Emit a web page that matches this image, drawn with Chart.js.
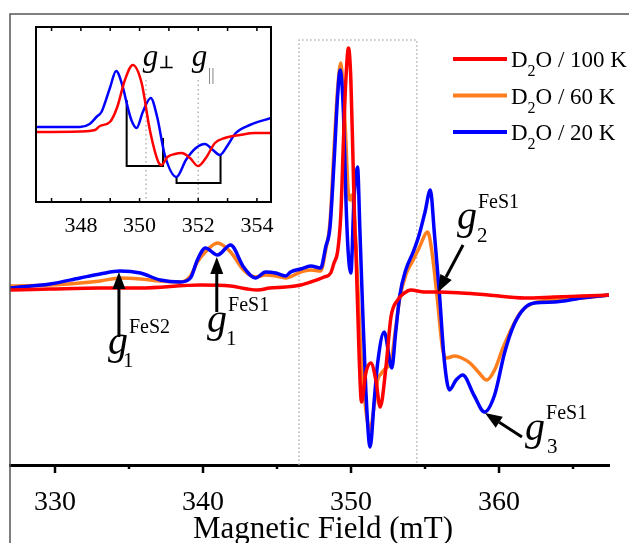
<!DOCTYPE html>
<html>
<head>
<meta charset="utf-8">
<script src="https://cdn.jsdelivr.net/npm/chart.js@4.4.1/dist/chart.umd.min.js"></script>
<style>
  html, body { margin: 0; padding: 0; background: #fff; }
  #wrap { position: relative; width: 629px; height: 543px; overflow: hidden; }
  canvas { display: block; }
  #inset { position: absolute; left: 0; top: 0; pointer-events: none; }
</style>
</head>
<body>
<div id="wrap">
  <canvas id="grafico" width="629" height="543"></canvas>
  <canvas id="inset" width="300" height="240"></canvas>
</div>
<script>
// Spettro principale: campo (mT) e intensità (u.a.)
const campoRosso = [326.96, 329.66, 333.05, 335.76, 339.82, 341.86, 343.0, 343.7, 344.5, 345.58, 346.6, 347.28, 348.18, 348.63, 348.85, 349.09, 349.31, 349.49, 349.65, 349.83, 349.99, 350.14, 350.26, 350.33, 350.55, 350.71, 351.0, 351.34, 351.68, 351.97, 352.36, 352.70, 353.15, 353.60, 354.05, 354.95, 355.88, 357.44, 359.27, 361.71, 363.74, 365.57, 367.43];
const d2o100K   = [0, 1, 2, 2, 5, 4, 1, 0, 2, 3, 5, 8, 13, 17, 27, 38, 75, 150, 210, 242, 210, 127, 60, 40, -67, -112, -83, -73, -90, -117, -77, -27, -10, -3, 0, -2, -2, -3, -5, -8, -7, -6, -5];

const campoArancio = [326.96, 329.66, 331.69, 333.05, 334.40, 335.76, 337.11, 338.47, 339.15, 339.62, 340.16, 340.98, 341.86, 342.74, 343.55, 344.23, 344.91, 345.58, 346.6, 347.28, 347.95, 348.29, 348.58, 348.85, 349.09, 349.31, 349.49, 349.65, 349.80, 349.94, 350.05, 350.2, 350.44, 350.66, 351.0, 351.29, 351.57, 351.8, 352.02, 352.36, 352.7, 353.0, 353.3, 353.7, 354.2, 354.6, 355.18, 355.45, 355.79, 356.2, 356.46, 357.0, 357.48, 358.04, 358.6, 359.17, 359.7, 360.29, 361.42, 362.32, 363.74, 365.57, 367.43];
const d2o60K       = [4, 5, 7, 9, 12, 11, 9, 8, 14, 28, 38, 47, 38, 20, 13, 15, 14, 12, 18, 20, 19, 40, 68, 140, 200, 227, 195, 150, 100, 90, 95, 80, 10, -60, -120, -140, -115, -90, -84, -78, -72, -40, -8, 15, 30, 42, 58, 40, -3, -60, -68, -66, -68, -73, -82, -90, -80, -57, -23, -13, -10, -8, -5];

const campoBlu = [326.96, 329.66, 331.69, 333.05, 334.40, 335.76, 337.11, 338.47, 339.15, 339.62, 340.16, 340.98, 341.86, 342.74, 343.55, 344.23, 344.91, 345.58, 345.92, 346.6, 347.28, 347.95, 348.29, 348.58, 348.85, 349.09, 349.26, 349.49, 349.65, 349.80, 349.99, 350.2, 350.44, 350.6, 350.78, 351.0, 351.29, 351.57, 351.80, 352.24, 352.76, 353.0, 353.3, 353.7, 354.2, 354.6, 355.0, 355.36, 355.63, 355.97, 356.3, 356.65, 357.1, 357.55, 358.3, 359.02, 359.7, 360.37, 361.0, 361.73, 362.4, 363.74, 365.57, 367.43];
const d2o20K   = [2, 6, 12, 16, 19, 17, 10, 8, 12, 30, 42, 35, 45, 23, 12, 18, 17, 14, 18, 21, 24, 22, 43, 63, 127, 193, 220, 177, 93, 40, 17, 90, 123, 60, -17, -100, -157, -110, -73, -42, -78, -45, -5, 20, 38, 55, 78, 100, 57, -3, -70, -100, -90, -85, -105, -122, -105, -63, -35, -18, -13, -12, -8, -5];

const etichette = ['D2O / 100 K', 'D2O / 60 K', 'D2O / 20 K'];
const tickCampo = [330, 340, 350, 360];
const titoloX = 'Magnetic Field (mT)';

// Inserto: zoom della zona centrale (solo 100 K e 20 K)
const insCampoRosso = [346.47, 347.97, 348.48, 348.65, 348.99, 349.24, 349.5, 349.77, 350.07, 350.35, 350.64, 350.75, 350.95, 351.2, 351.44, 351.72, 351.99, 352.26, 352.57, 352.91, 353.42, 353.93, 354.48];
const insRosso      = [0, 0.5, 2, 6, 10, 25, 52, 67, 49, 2, -30, -33, -25, -22, -21, -26, -34, -26, -11, -6, -3, -1, -1];
const insCampoBlu = [346.47, 347.97, 348.3, 348.53, 348.7, 348.82, 349.0, 349.2, 349.43, 349.56, 349.72, 349.9, 350.11, 350.38, 350.6, 350.86, 351.26, 351.58, 351.92, 352.23, 352.5, 352.74, 353.01, 353.28, 353.76, 354.48];
const insBlu      = [5, 5, 8, 15, 20, 29, 45, 61, 45, 29, 12, 4, 20, 34, 15, -23, -45, -28, -16, -12, -18, -23, -13, -1, 7, 14];
const staffa1X = [349.56, 349.56, 350.8, 350.8];
const staffa1Y = [32, -34, -34, -6];
const staffa2X = [351.26, 351.26, 352.76, 352.76];
const staffa2Y = [-45, -51, -51, -23];
const gPerp = 350.22, gPar = 352.0;

const toXY = (xs, ys) => xs.map((x, i) => ({ x: x, y: ys[i] }));
const SERIF = '"Liberation Serif", "Times New Roman", serif';

// annotazioni g (coordinate nei dati)
const frecce = [
  { da: [334.32, -47], a: [334.32, 18] },
  { da: [340.93, -22], a: [340.93, 33] },
  { da: [357.57, 45], a: [355.88, -2] },
  { da: [361.55, -147], a: [359.05, -123] }
];
const etichetteG = [
  { at: [333.58, -64], sub: '1', sup: 'FeS2', dSub: 15 },
  { at: [340.27, -42], sub: '1', sup: 'FeS1', dSub: 19 },
  { at: [357.16, 61], sub: '2', sup: 'FeS1', dSub: 20 },
  { at: [361.76, -150], sub: '3', sup: 'FeS1', dSub: 22 }
];

function freccia(ctx, x1, y1, x2, y2) {
  const ang = Math.atan2(y2 - y1, x2 - x1);
  const lung = 17, larg = 6.5;
  const bx = x2 - lung * Math.cos(ang), by = y2 - lung * Math.sin(ang);
  ctx.beginPath(); ctx.moveTo(x1, y1); ctx.lineTo(bx, by); ctx.stroke();
  ctx.beginPath();
  ctx.moveTo(x2, y2);
  ctx.lineTo(bx + larg * Math.sin(ang), by - larg * Math.cos(ang));
  ctx.lineTo(bx - larg * Math.sin(ang), by + larg * Math.cos(ang));
  ctx.closePath(); ctx.fill();
}

const decorazioni = {
  id: 'decorazioni',
  beforeDatasetsDraw(chart) {
    // riquadro tratteggiato = zona dell'inserto
    const { ctx, scales: { x, y }, chartArea } = chart;
    const l = x.getPixelForValue(346.49), r = x.getPixelForValue(354.44), t = y.getPixelForValue(250);
    ctx.save();
    ctx.strokeStyle = '#b4b4b4'; ctx.lineWidth = 1.5; ctx.setLineDash([1.5, 2.5]);
    ctx.beginPath();
    ctx.moveTo(l, chartArea.bottom); ctx.lineTo(l, t); ctx.lineTo(r, t); ctx.lineTo(r, chartArea.bottom);
    ctx.stroke();
    ctx.restore();
  },
  afterDraw(chart) {
    const { ctx, scales: { x, y }, chartArea } = chart;
    ctx.save();
    // cornice
    ctx.strokeStyle = '#555'; ctx.lineWidth = 1.5;
    ctx.beginPath();
    ctx.moveTo(chartArea.left, chart.height); ctx.lineTo(chartArea.left, chartArea.top); ctx.lineTo(chart.width, chartArea.top);
    ctx.stroke();
    // tacche asse x (maggiori e minori)
    ctx.strokeStyle = '#000'; ctx.lineWidth = 2.5;
    x.ticks.forEach(t => {
      const px = x.getPixelForValue(t.value);
      const len = Math.round(t.value) % 10 === 0 ? 8 : 4;
      ctx.beginPath(); ctx.moveTo(px, chartArea.bottom); ctx.lineTo(px, chartArea.bottom + len); ctx.stroke();
    });
    // titolo asse x (un po' spostato a destra come nell'originale)
    ctx.fillStyle = '#000';
    ctx.font = '31px ' + SERIF;
    ctx.textAlign = 'center'; ctx.textBaseline = 'alphabetic';
    ctx.fillText(titoloX, 323, 538);
    // frecce
    ctx.lineWidth = 3;
    frecce.forEach(f => {
      freccia(ctx, x.getPixelForValue(f.da[0]), y.getPixelForValue(f.da[1]), x.getPixelForValue(f.a[0]), y.getPixelForValue(f.a[1]));
    });
    // etichette g
    ctx.textAlign = 'left';
    etichetteG.forEach(e => {
      const gx = x.getPixelForValue(e.at[0]), gy = y.getPixelForValue(e.at[1]);
      ctx.font = 'italic 40px ' + SERIF;
      ctx.fillText('g', gx, gy);
      ctx.font = '21px ' + SERIF;
      ctx.fillText(e.sub, gx + e.dSub, gy + 13);
      ctx.font = '20px ' + SERIF;
      ctx.fillText(e.sup, gx + 21, gy - 21);
    });
    // legenda
    chart.data.datasets.slice(0, 3).forEach((ds, i) => {
      const yl = 59 + i * 36.5;
      ctx.strokeStyle = ds.borderColor; ctx.lineWidth = 4;
      ctx.beginPath(); ctx.moveTo(453, yl); ctx.lineTo(507, yl); ctx.stroke();
      const lab = etichette[i];
      ctx.fillStyle = '#000';
      ctx.font = '23px ' + SERIF;
      ctx.fillText(lab.slice(0, 1), 511, yl + 8);
      const w1 = ctx.measureText(lab.slice(0, 1)).width;
      ctx.font = '16px ' + SERIF;
      ctx.fillText(lab.slice(1, 2), 511 + w1, yl + 17);
      const w2 = ctx.measureText(lab.slice(1, 2)).width;
      ctx.font = '23px ' + SERIF;
      ctx.fillText(lab.slice(2), 511 + w1 + w2, yl + 8);
    });
    ctx.restore();
  }
};

new Chart(document.getElementById('grafico'), {
  type: 'line',
  data: {
    datasets: [
      { label: etichette[0], data: toXY(campoRosso, d2o100K), borderColor: '#ff0000', order: 0 },
      { label: etichette[1], data: toXY(campoArancio, d2o60K), borderColor: '#ff7f1e', order: 2 },
      { label: etichette[2], data: toXY(campoBlu, d2o20K), borderColor: '#0000ff', order: 1 }
    ].map(d => Object.assign(d, { borderWidth: 3.5, pointRadius: 0, fill: false, cubicInterpolationMode: 'monotone' }))
  },
  options: {
    responsive: false,
    animation: false,
    layout: { padding: { left: 10, right: 20, top: 14, bottom: 0 } },
    plugins: { legend: { display: false }, tooltip: { enabled: false } },
    scales: {
      x: {
        type: 'linear', min: 326.96, max: 367.43,
        grid: { display: false },
        border: { display: true, color: '#000', width: 3 },
        ticks: {
          stepSize: 5, includeBounds: false, autoSkip: false, maxRotation: 0, padding: 13,
          color: '#000', font: { family: SERIF, size: 28 },
          callback: v => tickCampo.includes(Math.round(v)) ? String(Math.round(v)) : ''
        },
        title: { display: false },
        afterFit: s => { s.height = 78; }
      },
      y: { display: false, min: -175, max: 276 }
    }
  },
  plugins: [decorazioni]
});

// ---- inserto ----
const corniceInserto = {
  id: 'corniceInserto',
  beforeDraw(chart) {
    const { ctx, chartArea: a } = chart;
    ctx.save(); ctx.fillStyle = '#fff';
    ctx.fillRect(a.left, a.top, a.right - a.left, a.bottom - a.top);
    ctx.restore();
  },
  beforeDatasetsDraw(chart) {
    const { ctx, scales: { x, y }, chartArea: a } = chart;
    ctx.save();
    ctx.strokeStyle = '#b4b4b4'; ctx.lineWidth = 1.5; ctx.setLineDash([1.5, 3]);
    [gPerp, gPar].forEach(v => {
      const px = x.getPixelForValue(v);
      ctx.beginPath(); ctx.moveTo(px, y.getPixelForValue(52)); ctx.lineTo(px, a.bottom); ctx.stroke();
    });
    ctx.restore();
  },
  afterDraw(chart) {
    const { ctx, scales: { x, y }, chartArea: a } = chart;
    ctx.save();
    ctx.strokeStyle = '#000'; ctx.lineWidth = 2;
    ctx.strokeRect(a.left, a.top, a.right - a.left, a.bottom - a.top);
    ctx.lineWidth = 1.5;
    x.ticks.forEach(t => {
      const px = x.getPixelForValue(t.value);
      ctx.beginPath();
      ctx.moveTo(px, a.top); ctx.lineTo(px, a.top + 4);
      ctx.moveTo(px, a.bottom); ctx.lineTo(px, a.bottom - 4);
      ctx.stroke();
    });
    ctx.fillStyle = '#000'; ctx.textAlign = 'left'; ctx.textBaseline = 'alphabetic';
    const px1 = x.getPixelForValue(350.11), px2 = x.getPixelForValue(351.78), py = y.getPixelForValue(66);
    ctx.font = 'italic 31px ' + SERIF;
    ctx.fillText('g', px1, py);
    ctx.fillText('g', px2, py);
    ctx.font = 'bold 17px ' + SERIF;
    ctx.fillText('⊥', px1 + 16, py + 2);
    ctx.fillStyle = '#777';
    ctx.font = '17px ' + SERIF;
    ctx.fillText('||', px2 + 16, py + 14);
    ctx.restore();
  }
};

new Chart(document.getElementById('inset'), {
  type: 'line',
  data: {
    datasets: [
      { label: '100 K', data: toXY(insCampoRosso, insRosso), borderColor: '#ff0000', borderWidth: 2.5, cubicInterpolationMode: 'monotone' },
      { label: '20 K', data: toXY(insCampoBlu, insBlu), borderColor: '#0000ff', borderWidth: 2.5, cubicInterpolationMode: 'monotone' },
      { label: 'g⊥', data: toXY(staffa1X, staffa1Y), borderColor: '#000', borderWidth: 2, tension: 0 },
      { label: 'g||', data: toXY(staffa2X, staffa2Y), borderColor: '#000', borderWidth: 2, tension: 0 }
    ].map(d => Object.assign(d, { pointRadius: 0, fill: false }))
  },
  options: {
    responsive: false,
    animation: false,
    layout: { padding: { left: 36, right: 29, top: 27, bottom: 0 } },
    plugins: { legend: { display: false }, tooltip: { enabled: false } },
    scales: {
      x: {
        type: 'linear', min: 346.47, max: 354.48,
        grid: { display: false },
        border: { display: false },
        ticks: {
          stepSize: 1, includeBounds: false, autoSkip: false, maxRotation: 0, padding: 3,
          color: '#000', font: { family: SERIF, size: 22 },
          callback: v => Math.round(v) % 2 === 0 ? String(Math.round(v)) : ''
        },
        afterFit: s => { s.height = 38; }
      },
      y: { display: false, min: -70, max: 105 }
    }
  },
  plugins: [corniceInserto]
});
</script>
</body>
</html>
